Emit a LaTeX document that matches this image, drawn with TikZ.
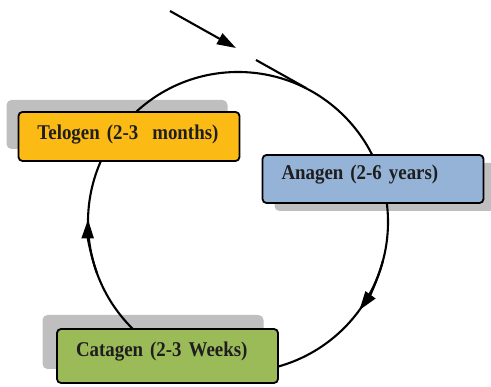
\documentclass[tikz,border=0pt]{standalone}
\usepackage{fontspec}
\setmainfont{Liberation Serif}
\newfontfamily\phasefont[FakeStretch=0.9]{Liberation Serif}
\usetikzlibrary{arrows.meta,calc}
\definecolor{telo}{HTML}{FCBB14}
\definecolor{ana}{HTML}{95B3D7}
\definecolor{cata}{HTML}{9BBB59}
\definecolor{shad}{HTML}{BFBFBF}
\definecolor{ink}{HTML}{1E1E1E}
\begin{document}
\begin{tikzpicture}[x=1pt,y=-1pt,
  phase/.style={draw=black, line width=1.8pt, rounded corners=4pt, inner xsep=19pt, inner ysep=0pt,
    text width=183pt, align=left, text height=15pt,
    font=\phasefont\fontsize{21}{23}\selectfont\bfseries, text=ink},
  shadowbox/.style={fill=shad, rounded corners=5pt, minimum width=221pt},
  cyc/.style={line width=2.1pt},
  tip/.style={-{Triangle[length=19pt,width=12pt]}}
]
\useasboundingbox (0,0) rectangle (491,387);
% shadows
\node[shadowbox, minimum height=49pt] (ts) at (117,124.5) {};
\node[shadowbox, minimum height=48pt] (as) at (385,187) {};
\node[shadowbox, minimum height=54pt] (cs) at (153,342) {};
% cycle
\coordinate (c) at (238,222);
\draw[cyc] (c) circle[radius=150];
\draw[cyc, tip] ($(c)+(15:150)$) arc[start angle=15, end angle=36, radius=150];
\draw[cyc, tip] ($(c)+(160:150)$) arc[start angle=160, end angle=181, radius=150];
% entering arrow
\coordinate (e0) at (170,11);
\coordinate (e1) at (236,48);
\coordinate (e2) at (256,60);
\coordinate (e3) at (306,88);
\draw[cyc, tip] (e0) -- (e1);
\draw[cyc] (e2) -- (e3);
% boxes
\node[phase, fill=telo, minimum height=49pt, text depth=8pt] (telogen) at (129,136.5) {Telogen (2-3\ \ months)};
\node[phase, fill=ana, minimum height=48pt, text depth=13pt] (anagen) at (373,179) {Anagen (2-6 years)};
\node[phase, fill=cata, minimum height=54pt, text depth=13pt] (catagen) at (167.5,356) {Catagen (2-3 Weeks)};
\end{tikzpicture}
\end{document}
